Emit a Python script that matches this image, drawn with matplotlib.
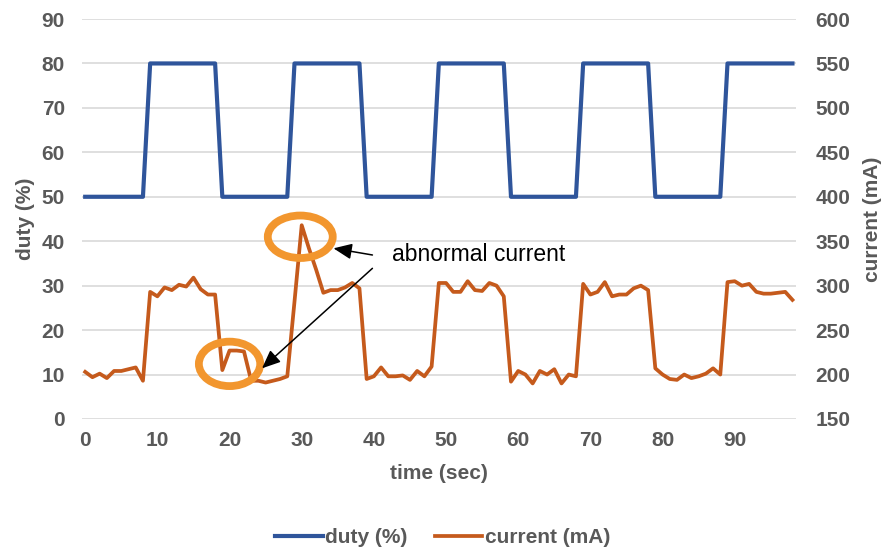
import numpy as np
import matplotlib.pyplot as plt
from matplotlib.patches import Ellipse

plt.rcParams['font.family'] = ['Liberation Sans', 'DejaVu Sans']

# data (one sample per second)
time_sec = np.arange(99)
duty = [50, 50, 50, 50, 50, 50, 50, 50, 50,
        80, 80, 80, 80, 80, 80, 80, 80, 80, 80,
        50, 50, 50, 50, 50, 50, 50, 50, 50, 50,
        80, 80, 80, 80, 80, 80, 80, 80, 80, 80,
        50, 50, 50, 50, 50, 50, 50, 50, 50, 50,
        80, 80, 80, 80, 80, 80, 80, 80, 80, 80,
        50, 50, 50, 50, 50, 50, 50, 50, 50, 50,
        80, 80, 80, 80, 80, 80, 80, 80, 80, 80,
        50, 50, 50, 50, 50, 50, 50, 50, 50, 50,
        80, 80, 80, 80, 80, 80, 80, 80, 80, 80]
current = [203, 197, 201, 196, 204, 204, 206, 208, 193,
           293, 288, 298, 295, 301, 299, 309, 296, 290, 290,
           205, 227, 227, 226, 193, 193, 191, 193, 195, 198,
           282, 368, 342, 318, 292, 295, 295, 298, 303, 297,
           195, 198, 208, 198, 198, 199, 194, 204, 198, 209,
           303, 303, 293, 293, 305, 295, 294, 303, 300, 288,
           192, 204, 200, 190, 204, 200, 206, 190, 200, 198,
           302, 290, 293, 304, 288, 290, 290, 297, 300, 295,
           207, 200, 195, 194, 200, 196, 198, 201, 207, 200,
           304, 305, 300, 302, 293, 291, 291, 292, 293, 284]

x_ticks = [0, 10, 20, 30, 40, 50, 60, 70, 80, 90]
duty_ticks = [0, 10, 20, 30, 40, 50, 60, 70, 80, 90]
current_ticks = [150, 200, 250, 300, 350, 400, 450, 500, 550, 600]

blue = '#2F559B'
orange = '#C55A1C'
ring = '#F2962E'
grey = '#595959'

fig = plt.figure(figsize=(8.85, 5.51), dpi=100)
ax = fig.add_axes([0.0922, 0.2396, 0.8073, 0.7259])
ax2 = ax.twinx()

ax.plot(time_sec, duty, color=blue, lw=3, label='duty (%)', solid_joinstyle='round')
ax2.plot(time_sec, current, color=orange, lw=2.7, label='current (mA)', solid_joinstyle='round')

ax.set_xlim(-0.5, 98.5)
ax.set_ylim(0, 90)
ax2.set_ylim(150, 600)
ax.set_xticks(x_ticks)
ax.set_yticks(duty_ticks)
ax2.set_yticks(current_ticks)
ax.yaxis.grid(True, color='#D9D9D9', lw=1.2)
ax.set_axisbelow(True)

for a in (ax, ax2):
    for s in a.spines.values():
        s.set_visible(False)
    a.tick_params(length=0, labelsize=15, labelcolor=grey)
    for lab in a.get_xticklabels() + a.get_yticklabels():
        lab.set_fontweight('bold')
ax.tick_params(axis='y', pad=12)
ax2.tick_params(axis='y', pad=14)
ax.tick_params(axis='x', pad=9)

ax.set_xlabel('time (sec)', fontsize=15, fontweight='bold', color=grey, labelpad=10)
ax.set_ylabel('duty (%)', fontsize=15, fontweight='bold', color=grey, labelpad=5)
ax2.set_ylabel('current (mA)', fontsize=15, fontweight='bold', color=grey,
               rotation=90, labelpad=9)

# highlight rings (drawn in current axis units)
ax2.add_patch(Ellipse((29.8, 355), 9.0, 47.8, fill=False, ec=ring, lw=5.6, zorder=5))
ax2.add_patch(Ellipse((20.0, 212), 8.5, 50.0, fill=False, ec=ring, lw=5.6, zorder=5))

ax2.text(42.5, 334.5, 'abnormal current', fontsize=16.5, color='black', va='center', zorder=6)
arrow = dict(arrowstyle='-|>,head_length=0.7,head_width=0.3', color='black', lw=1.1,
             mutation_scale=16, shrinkA=0, shrinkB=0)
ax2.annotate('', xy=(34.4, 342), xytext=(39.8, 334.5), arrowprops=arrow, zorder=6)
ax2.annotate('', xy=(24.5, 207), xytext=(39.8, 319.5), arrowprops=arrow, zorder=6)

h1, l1 = ax.get_legend_handles_labels()
h2, l2 = ax2.get_legend_handles_labels()
leg = fig.legend(h1 + h2, l1 + l2, loc='center', bbox_to_anchor=(0.5, 0.024),
                 ncol=2, frameon=False, handlelength=2.3, handletextpad=0.1,
                 columnspacing=1.3, prop={'size': 15, 'weight': 'bold'})
for t in leg.get_texts():
    t.set_color(grey)

fig.savefig('out.png', dpi=100)
